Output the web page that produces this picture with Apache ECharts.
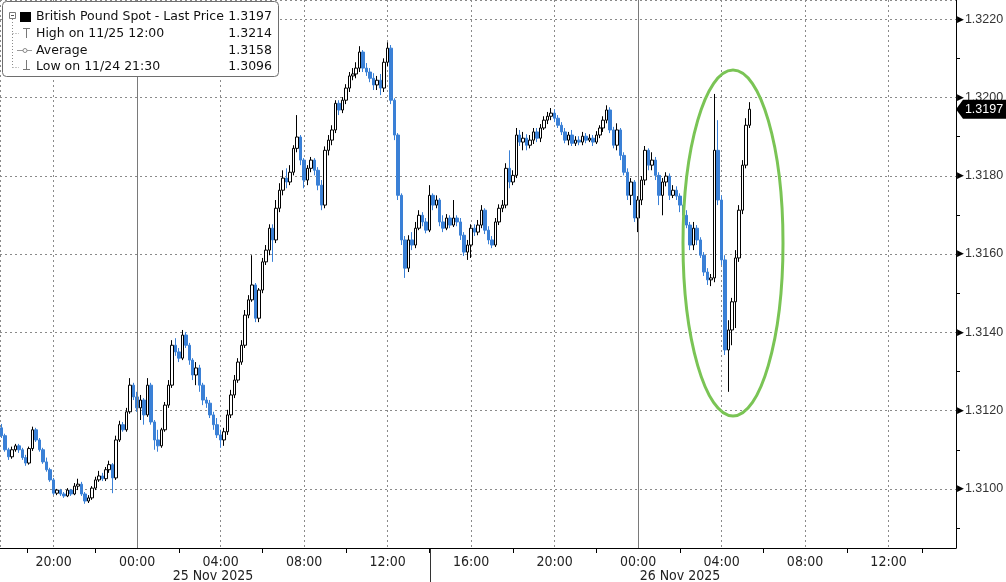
<!DOCTYPE html>
<html><head><meta charset="utf-8">
<script src="https://cdn.jsdelivr.net/npm/echarts@6/dist/echarts.min.js"></script>
<style>html,body{margin:0;padding:0;background:#fff}#c{width:1006px;height:582px}</style>
</head><body><div id="c"></div>
<script>
// ---- data (GBP spot, 10-minute candles from 24 Nov 2025 17:30) ----
const firstBarTime = [2025, 10, 24, 17, 30];
const barMinutes = 10;
const opens = [1.31156,
1.31136,1.31100,1.31082,1.31100,1.31110,1.31100,1.31080,1.31066,1.31103,1.31151,
1.31125,1.31100,1.31069,1.31049,1.31023,1.30989,1.30997,1.30987,1.30982,1.30997,
1.30987,1.31007,1.31012,1.30987,1.30969,1.30977,1.31002,1.31023,1.31033,1.31026,
1.31049,1.31062,1.31028,1.31125,1.31164,1.31151,1.31197,1.31265,1.31235,1.31207,
1.31227,1.31189,1.31265,1.31171,1.31125,1.31110,1.31151,1.31214,1.31265,1.31367,
1.31350,1.31334,1.31393,1.31367,1.31329,1.31291,1.31309,1.31265,1.31227,1.31219,
1.31189,1.31164,1.31138,1.31125,1.31146,1.31189,1.31240,1.31278,1.31324,1.31367,
1.31444,1.31483,1.31521,1.31436,1.31508,1.31580,1.31610,1.31666,1.31636,1.31717,
1.31763,1.31794,1.31784,1.31809,1.31870,1.31899,1.31840,1.31789,1.31819,1.31840,
1.31814,1.31776,1.31725,1.31865,1.31891,1.31917,1.31985,1.31968,1.31993,1.32024,
1.32055,1.32060,1.32075,1.32116,1.32075,1.32065,1.32049,1.32032,1.32044,1.32024,
1.32090,1.32126,1.31993,1.31904,1.31750,1.31636,1.31564,1.31636,1.31623,1.31666,
1.31699,1.31682,1.31661,1.31750,1.31725,1.31738,1.31682,1.31666,1.31692,1.31674,
1.31692,1.31682,1.31648,1.31605,1.31623,1.31666,1.31656,1.31674,1.31712,1.31661,
1.31636,1.31623,1.31682,1.31717,1.31725,1.31819,1.31784,1.31801,1.31904,1.31886,
1.31896,1.31878,1.31891,1.31912,1.31896,1.31922,1.31942,1.31952,1.31960,1.31947,
1.31929,1.31912,1.31891,1.31904,1.31883,1.31891,1.31886,1.31901,1.31891,1.31896,
1.31886,1.31904,1.31922,1.31942,1.31968,1.31917,1.31878,1.31917,1.31852,1.31809,
1.31750,1.31784,1.31692,1.31738,1.31789,1.31865,1.31827,1.31840,1.31801,1.31750,
1.31784,1.31799,1.31750,1.31763,1.31748,1.31725,1.31699,1.31674,1.31623,1.31666,
1.31636,1.31597,1.31554,1.31534,1.31539,1.31865,1.31738,1.31585,1.31355,1.31406,
1.31478,1.31590,1.31712,1.31827,1.31929];
const closes = [
1.31136,1.31100,1.31082,1.31100,1.31110,1.31100,1.31080,1.31066,1.31103,1.31151,
1.31125,1.31100,1.31069,1.31049,1.31023,1.30989,1.30997,1.30987,1.30982,1.30997,
1.30987,1.31007,1.31012,1.30987,1.30969,1.30977,1.31002,1.31023,1.31033,1.31026,
1.31049,1.31062,1.31028,1.31125,1.31164,1.31151,1.31197,1.31265,1.31235,1.31207,
1.31227,1.31189,1.31265,1.31171,1.31125,1.31110,1.31151,1.31214,1.31265,1.31367,
1.31350,1.31334,1.31393,1.31367,1.31329,1.31291,1.31309,1.31265,1.31227,1.31219,
1.31189,1.31164,1.31138,1.31125,1.31146,1.31189,1.31240,1.31278,1.31324,1.31367,
1.31444,1.31483,1.31521,1.31436,1.31508,1.31580,1.31610,1.31666,1.31636,1.31717,
1.31763,1.31794,1.31784,1.31809,1.31870,1.31899,1.31840,1.31789,1.31819,1.31840,
1.31814,1.31776,1.31725,1.31865,1.31891,1.31917,1.31985,1.31968,1.31993,1.32024,
1.32055,1.32060,1.32075,1.32116,1.32075,1.32065,1.32049,1.32032,1.32044,1.32024,
1.32090,1.32126,1.31993,1.31904,1.31750,1.31636,1.31564,1.31636,1.31623,1.31666,
1.31699,1.31682,1.31661,1.31750,1.31725,1.31738,1.31682,1.31666,1.31692,1.31674,
1.31692,1.31682,1.31648,1.31605,1.31623,1.31666,1.31656,1.31674,1.31712,1.31661,
1.31636,1.31623,1.31682,1.31717,1.31725,1.31819,1.31784,1.31801,1.31904,1.31886,
1.31896,1.31878,1.31891,1.31912,1.31896,1.31922,1.31942,1.31952,1.31960,1.31947,
1.31929,1.31912,1.31891,1.31904,1.31883,1.31891,1.31886,1.31901,1.31891,1.31896,
1.31886,1.31904,1.31922,1.31942,1.31968,1.31917,1.31878,1.31917,1.31852,1.31809,
1.31750,1.31784,1.31692,1.31738,1.31789,1.31865,1.31827,1.31840,1.31801,1.31750,
1.31784,1.31799,1.31750,1.31763,1.31748,1.31725,1.31699,1.31674,1.31623,1.31666,
1.31636,1.31597,1.31554,1.31534,1.31539,1.31865,1.31738,1.31585,1.31355,1.31406,
1.31478,1.31590,1.31712,1.31827,1.31929,1.31970];
const lows = [
1.31130,1.31095,1.31074,1.31077,1.31095,1.31092,1.31074,1.31059,1.31062,1.31097,
1.31120,1.31095,1.31064,1.31044,1.31018,1.30984,1.30984,1.30982,1.30977,1.30979,
1.30982,1.30984,1.30997,1.30982,1.30962,1.30964,1.30972,1.30997,1.31018,1.31020,
1.31020,1.31041,1.30989,1.31023,1.31120,1.31146,1.31146,1.31192,1.31227,1.31197,
1.31176,1.31164,1.31184,1.31164,1.31100,1.31095,1.31105,1.31146,1.31207,1.31258,
1.31340,1.31324,1.31329,1.31360,1.31317,1.31278,1.31265,1.31248,1.31214,1.31207,
1.31181,1.31151,1.31130,1.31105,1.31110,1.31138,1.31181,1.31232,1.31271,1.31317,
1.31360,1.31436,1.31478,1.31426,1.31426,1.31500,1.31572,1.31597,1.31580,1.31628,
1.31707,1.31750,1.31768,1.31776,1.31801,1.31860,1.31827,1.31768,1.31776,1.31809,
1.31801,1.31763,1.31712,1.31717,1.31852,1.31878,1.31909,1.31955,1.31960,1.31983,
1.32014,1.32044,1.32049,1.32065,1.32065,1.32055,1.32039,1.32019,1.32019,1.32006,
1.32014,1.32080,1.31983,1.31891,1.31738,1.31623,1.31539,1.31554,1.31610,1.31615,
1.31661,1.31671,1.31653,1.31656,1.31712,1.31717,1.31671,1.31656,1.31661,1.31666,
1.31669,1.31671,1.31636,1.31595,1.31585,1.31590,1.31646,1.31648,1.31666,1.31651,
1.31625,1.31615,1.31618,1.31674,1.31707,1.31717,1.31768,1.31776,1.31794,1.31876,
1.31865,1.31865,1.31870,1.31881,1.31886,1.31886,1.31917,1.31932,1.31942,1.31937,
1.31922,1.31904,1.31883,1.31878,1.31876,1.31876,1.31878,1.31878,1.31883,1.31886,
1.31876,1.31881,1.31896,1.31912,1.31934,1.31909,1.31870,1.31865,1.31840,1.31801,
1.31738,1.31725,1.31682,1.31656,1.31725,1.31776,1.31814,1.31814,1.31789,1.31725,
1.31699,1.31773,1.31738,1.31743,1.31738,1.31707,1.31687,1.31666,1.31610,1.31610,
1.31623,1.31590,1.31544,1.31521,1.31518,1.31528,1.31725,1.31572,1.31342,1.31248,
1.31367,1.31411,1.31580,1.31702,1.31819,1.31922];
const highs = [
1.31166,1.31141,1.31105,1.31108,1.31115,1.31115,1.31105,1.31087,1.31108,1.31159,
1.31156,1.31130,1.31105,1.31080,1.31054,1.31028,1.31000,1.31000,1.30992,1.31002,
1.31000,1.31015,1.31026,1.31018,1.30992,1.30984,1.31007,1.31031,1.31046,1.31041,
1.31056,1.31072,1.31066,1.31136,1.31174,1.31171,1.31207,1.31283,1.31271,1.31248,
1.31240,1.31232,1.31283,1.31271,1.31176,1.31151,1.31156,1.31222,1.31278,1.31380,
1.31385,1.31360,1.31406,1.31401,1.31373,1.31334,1.31324,1.31317,1.31271,1.31235,
1.31227,1.31197,1.31181,1.31151,1.31156,1.31202,1.31253,1.31291,1.31334,1.31380,
1.31457,1.31495,1.31597,1.31526,1.31513,1.31590,1.31623,1.31676,1.31676,1.31738,
1.31781,1.31814,1.31819,1.31827,1.31878,1.31955,1.31904,1.31845,1.31827,1.31848,
1.31845,1.31822,1.31789,1.31875,1.31904,1.31929,1.31993,1.31993,1.32001,1.32034,
1.32065,1.32075,1.32090,1.32131,1.32121,1.32088,1.32075,1.32062,1.32055,1.32060,
1.32100,1.32141,1.32134,1.31998,1.31909,1.31755,1.31646,1.31648,1.31656,1.31682,
1.31712,1.31707,1.31692,1.31776,1.31755,1.31750,1.31743,1.31699,1.31702,1.31699,
1.31738,1.31699,1.31692,1.31656,1.31636,1.31676,1.31676,1.31687,1.31725,1.31717,
1.31671,1.31646,1.31692,1.31727,1.31738,1.31832,1.31865,1.31814,1.31922,1.31917,
1.31912,1.31906,1.31904,1.31922,1.31922,1.31932,1.31952,1.31963,1.31973,1.31970,
1.31955,1.31937,1.31922,1.31912,1.31917,1.31901,1.31901,1.31912,1.31909,1.31906,
1.31904,1.31914,1.31929,1.31952,1.31980,1.31975,1.31925,1.31934,1.31922,1.31860,
1.31819,1.31794,1.31789,1.31748,1.31799,1.31876,1.31870,1.31860,1.31848,1.31809,
1.31794,1.31809,1.31806,1.31776,1.31773,1.31755,1.31738,1.31712,1.31682,1.31682,
1.31674,1.31643,1.31605,1.31564,1.31549,1.32009,1.31942,1.31750,1.31597,1.31431,
1.31488,1.31610,1.31725,1.31840,1.31947,1.31988];

const legendNames = ['British Pound Spot - Last Price', 'High on 11/25 12:00', 'Average', 'Low on 11/24 21:30'];
const legendValues = ['1.3197', '1.3214', '1.3158', '1.3096'];
const dateLabels = ['25 Nov 2025', '26 Nov 2025'];
const dayBoundaries = [[2025, 10, 25, 0, 0], [2025, 10, 26, 0, 0]];
const xRange = [[2025, 10, 24, 17, 26], [2025, 10, 26, 15, 14]];
const yRange = [1.30849, 1.32249];
const yStep = 0.002;
const lastPrice = 1.3197;

// ---- build ----
const ts = a => new Date(a[0], a[1], a[2], a[3], a[4]).getTime();
const t0 = ts(firstBarTime);
const candles = closes.map((c, i) => [t0 + i * barMinutes * 60000, opens[i], c, lows[i], highs[i]]);
const xMin = ts(xRange[0]), xMax = ts(xRange[1]);
const pad = n => (n < 10 ? '0' : '') + n;
const BLUE = '#3a80d6';
const axisFont = "'Liberation Sans Narrow', 'DejaVu Sans Condensed', 'Liberation Sans', sans-serif";
const legendFont = '12.5px "DejaVu Sans"';

const graphic = [
  {type:'rect', shape:{x:2.5, y:1.5, width:276, height:75, r:4}, style:{fill:'#fff', stroke:'#6e6e6e', lineWidth:1}, z:100},
  {type:'line', shape:{x1:12.5, y1:19, x2:12.5, y2:67.5}, style:{stroke:'#8a8a8a', lineWidth:1, lineDash:[1,2]}, z:101},
  {type:'line', shape:{x1:12.5, y1:33.5, x2:19, y2:33.5}, style:{stroke:'#8a8a8a', lineWidth:1, lineDash:[1,2]}, z:101},
  {type:'line', shape:{x1:12.5, y1:67.5, x2:19, y2:67.5}, style:{stroke:'#8a8a8a', lineWidth:1, lineDash:[1,2]}, z:101},
  {type:'rect', shape:{x:9.5, y:12.5, width:6, height:6}, style:{fill:'#fff', stroke:'#7a7a7a', lineWidth:1}, z:101},
  {type:'line', shape:{x1:11, y1:15.5, x2:14, y2:15.5}, style:{stroke:'#555', lineWidth:1}, z:102},
  {type:'rect', shape:{x:20, y:12, width:11, height:10}, style:{fill:'#000'}, z:101},
  {type:'line', shape:{x1:26.5, y1:28, x2:26.5, y2:38}, style:{stroke:'#777', lineWidth:1}, z:101},
  {type:'line', shape:{x1:23, y1:28.5, x2:30, y2:28.5}, style:{stroke:'#777', lineWidth:1}, z:101},
  {type:'line', shape:{x1:17, y1:50.5, x2:32, y2:50.5}, style:{stroke:'#999', lineWidth:1}, z:101},
  {type:'circle', shape:{cx:25, cy:50.5, r:2}, style:{fill:'#fff', stroke:'#888', lineWidth:1}, z:102},
  {type:'line', shape:{x1:26.5, y1:60, x2:26.5, y2:70}, style:{stroke:'#777', lineWidth:1}, z:101},
  {type:'line', shape:{x1:23, y1:69.5, x2:30, y2:69.5}, style:{stroke:'#777', lineWidth:1}, z:101},
  // date-band separator below the time axis
  {type:'line', shape:{x1:430.5, y1:549, x2:430.5, y2:582}, style:{stroke:'#333', lineWidth:1}, z:100},
  // annotation ellipse
  {type:'ellipse', shape:{cx:733, cy:243, rx:50, ry:173}, style:{fill:'none', stroke:'#7ac455', lineWidth:3}, z:100}
];
const rowY = [17, 33.5, 50.5, 67];
legendNames.forEach((n, i) => {
  graphic.push({type:'text', x:36, y:rowY[i], z:103, style:{text:n, fill:'#111', font:legendFont, align:'left', verticalAlign:'middle'}});
  graphic.push({type:'text', x:272, y:rowY[i], z:103, style:{text:legendValues[i], fill:'#111', font:legendFont, align:'right', verticalAlign:'middle'}});
});
const datePos = [213, 680];
dateLabels.forEach((d, i) => {
  graphic.push({type:'text', x:datePos[i], y:576, z:100, style:{text:d, fill:'#222', font:"14px " + axisFont, align:'center', verticalAlign:'middle'}});
});

const chart = echarts.init(document.getElementById('c'), null, {renderer:'canvas'});
chart.setOption({
  animation: false,
  backgroundColor: '#fff',
  grid: {left: 0, right: 50, top: 0, bottom: 34, outerBoundsMode: 'none', containLabel: false},
  xAxis: {
    type: 'time', min: xMin, max: xMax,
    minInterval: 4 * 3600e3, maxInterval: 4 * 3600e3,
    axisLine: {show: true, onZero: false, lineStyle: {color: '#000', width: 1}},
    axisTick: {show: false},
    minorTick: {show: true, splitNumber: 2, length: 5, lineStyle: {color: '#000'}},
    splitLine: {show: true, lineStyle: {color: '#8a8a8a', type: [2, 3]}},
    axisLabel: {
      margin: 7, color: '#222', fontSize: 14, fontFamily: axisFont, hideOverlap: false,
      formatter: v => { const d = new Date(v); return (d.getMinutes() === 0 && d.getHours() % 4 === 0) ? pad(d.getHours()) + ':00' : ''; }
    }
  },
  yAxis: {
    type: 'value', position: 'right', min: yRange[0], max: yRange[1],
    minInterval: yStep, maxInterval: yStep,
    axisLine: {show: true, lineStyle: {color: '#000', width: 1}},
    axisTick: {show: false},
    minorTick: {show: true, splitNumber: 2, length: 4, lineStyle: {color: '#000'}},
    splitLine: {show: true, lineStyle: {color: '#8a8a8a', type: [2, 3]}},
    axisLabel: {
      margin: 1,
      formatter: v => { const k = Math.round(v / yStep); return Math.abs(v - k * yStep) < 1e-7 ? '{t|\u25B6}{v|' + v.toFixed(4) + '}' : ''; },
      rich: {
        t: {fontSize: 9, color: '#000', fontFamily: 'DejaVu Sans'},
        v: {fontSize: 12.5, color: '#333', fontFamily: 'Liberation Sans', padding: [0, 0, 0, 1]}
      }
    }
  },
  graphic: graphic,
  series: [{
    type: 'candlestick',
    data: candles,
    barWidth: 3,
    clip: false,
    itemStyle: {color: '#ffffff', color0: BLUE, borderColor: '#000000', borderColor0: BLUE, borderWidth: 1},
    markLine: {
      silent: true, symbol: 'none', animation: false,
      label: {show: false},
      lineStyle: {color: '#7a7a7a', type: 'solid', width: 1},
      data: dayBoundaries.map(d => ({xAxis: ts(d)}))
    },
    markPoint: {
      silent: true, animation: false,
      data: [{coord: [xMax, lastPrice], value: lastPrice}],
      symbol: 'path://M0,10 L7,0 L50,0 L50,20 L7,20 Z',
      symbolSize: [50, 19], symbolKeepAspect: false, symbolOffset: ['50%', 0],
      itemStyle: {color: '#000'},
      label: {show: true, position: 'inside', offset: [3, 0], color: '#fff', fontSize: 12.5, fontFamily: 'Liberation Sans',
        formatter: p => p.value.toFixed(4)}
    }
  }]
});
</script></body></html>
